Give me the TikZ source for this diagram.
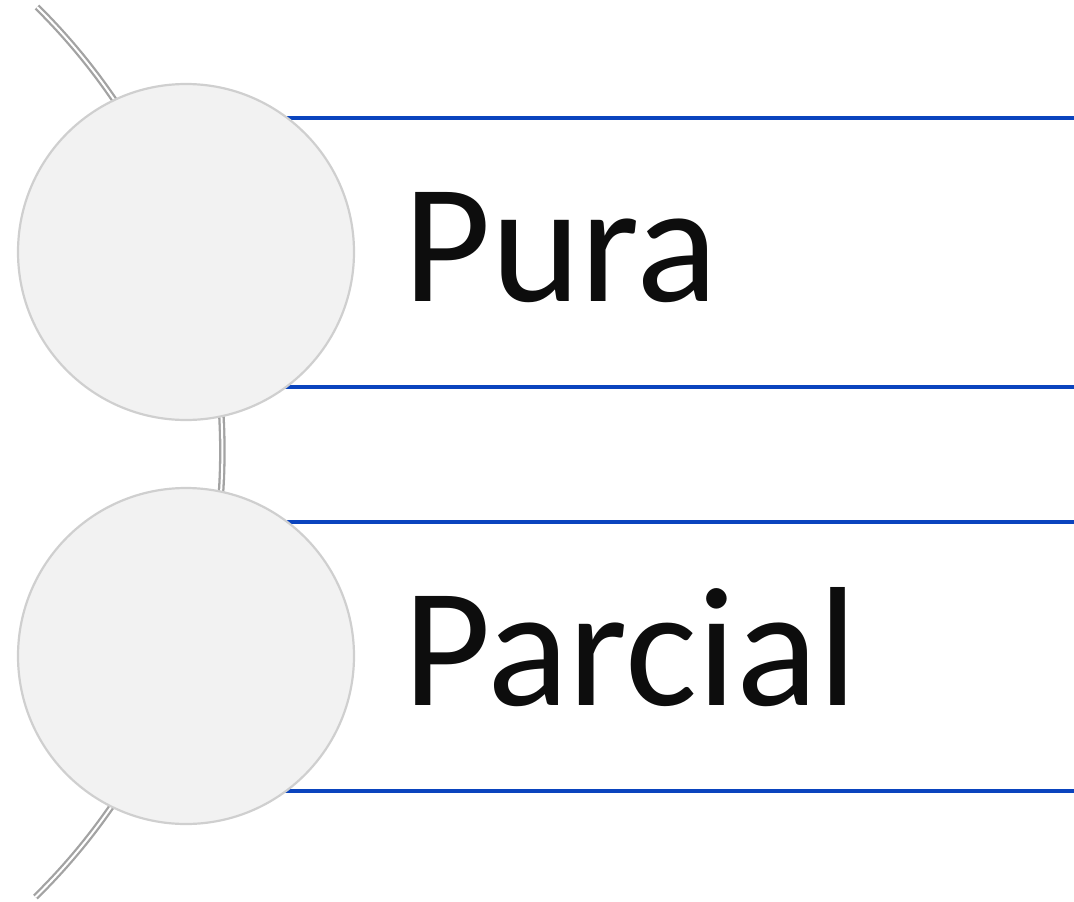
\documentclass[tikz,border=0pt]{standalone}
\usepackage{fontspec}
\setmainfont{Carlito}
\definecolor{ringfill}{HTML}{F2F2F2}
\definecolor{ringedge}{HTML}{CFCFCF}
\definecolor{railblue}{HTML}{0A44BE}
\definecolor{spine}{HTML}{A3A3A3}
\definecolor{ink}{HTML}{0D0D0D}
\begin{document}
\begin{tikzpicture}[x=1pt,y=-1pt,
  bubble/.style={circle,draw=ringedge,line width=2.2pt,fill=ringfill,minimum size=336pt,inner sep=0pt},
  rail/.style={draw=railblue,line width=4pt},
  spineline/.style={draw=spine,line width=2.3pt,double=white,double distance=2pt},
  label/.style={anchor=base west,inner sep=0pt,text=ink,font=\fontsize{170}{170}\selectfont}]
\useasboundingbox (0,0) rectangle (1074,902);
% curved spine behind the bubbles
\draw[spineline] (37,7) arc[start angle=-45.3,end angle=45.5,radius=625];
% horizontal rails framing each label
\foreach \y in {118,387,522,791}
  \draw[rail] (186,\y) -- (1074,\y);
% bubbles
\node[bubble] (b1) at (186,252) {};
\node[bubble] (b2) at (186,656) {};
% labels
\node[label] (t1) at (403,301) {Pura};
\node[label] (t2) at (403,705) {Parcial};
\end{tikzpicture}
\end{document}
